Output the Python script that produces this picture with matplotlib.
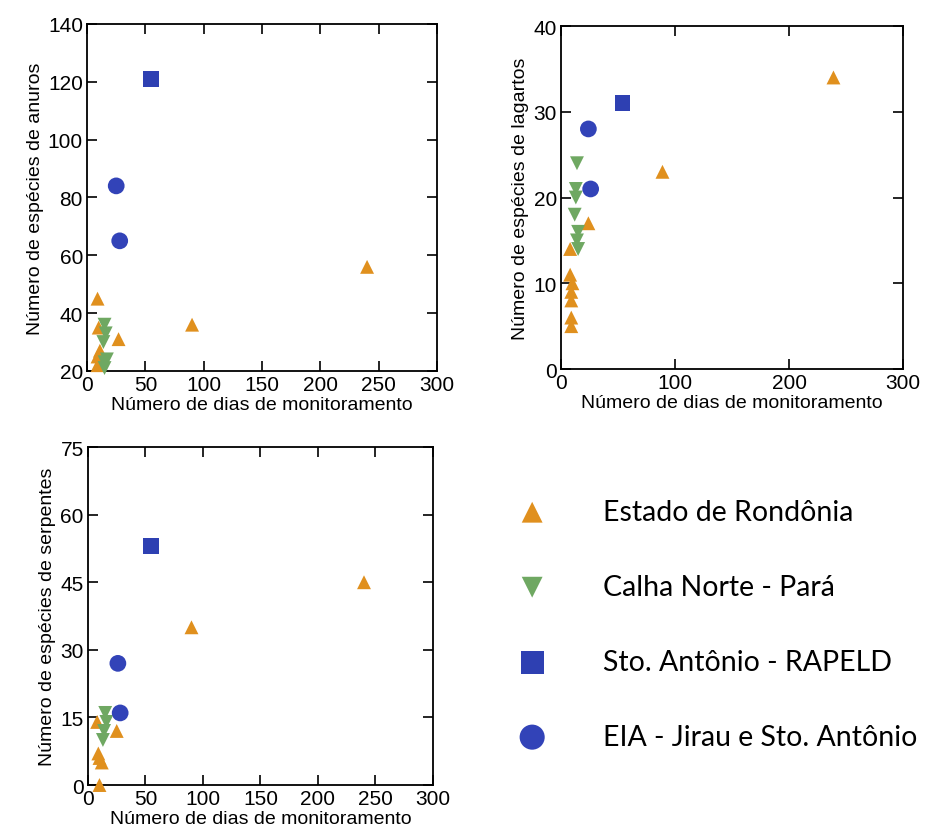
import matplotlib
matplotlib.use("Agg")
import matplotlib.pyplot as plt

plt.rcParams['font.family'] = ['Liberation Sans', 'DejaVu Sans']

# dados (dias de monitoramento x número de espécies)
grupos = ['Estado de Rondônia', 'Calha Norte - Pará',
          'Sto. Antônio - RAPELD', 'EIA - Jirau e Sto. Antônio']

# anuros
anuros_x = {
    'Estado de Rondônia': [9, 10, 27, 11, 9, 9, 90, 240],
    'Calha Norte - Pará': [15, 16, 14, 17, 15, 15],
    'Sto. Antônio - RAPELD': [55],
    'EIA - Jirau e Sto. Antônio': [25, 28],
}
anuros_y = {
    'Estado de Rondônia': [45, 35, 31, 27, 25, 22, 36, 56],
    'Calha Norte - Pará': [36, 33, 30, 24, 23, 21],
    'Sto. Antônio - RAPELD': [121],
    'EIA - Jirau e Sto. Antônio': [84, 65],
}

# lagartos
lagartos_x = {
    'Estado de Rondônia': [239, 89, 24, 8, 8, 10, 9, 9, 9, 9],
    'Calha Norte - Pará': [14, 13, 13, 12, 15, 14, 15],
    'Sto. Antônio - RAPELD': [54],
    'EIA - Jirau e Sto. Antônio': [24, 26],
}
lagartos_y = {
    'Estado de Rondônia': [34, 23, 17, 14, 11, 10, 9, 8, 6, 5],
    'Calha Norte - Pará': [24, 21, 20, 18, 16, 15, 14],
    'Sto. Antônio - RAPELD': [31],
    'EIA - Jirau e Sto. Antônio': [28, 21],
}

# serpentes
serpentes_x = {
    'Estado de Rondônia': [240, 90, 8, 25, 9, 10, 12, 10],
    'Calha Norte - Pará': [15, 16, 14, 13],
    'Sto. Antônio - RAPELD': [55],
    'EIA - Jirau e Sto. Antônio': [26, 28],
}
serpentes_y = {
    'Estado de Rondônia': [45, 35, 14, 12, 7, 6, 5, 0],
    'Calha Norte - Pará': [16, 14, 12, 10],
    'Sto. Antônio - RAPELD': [53],
    'EIA - Jirau e Sto. Antônio': [27, 16],
}

estilos = {
    'Estado de Rondônia': dict(marker='^', color='#E0901E', s=100),
    'Calha Norte - Pará': dict(marker='v', color='#6FA862', s=100),
    'Sto. Antônio - RAPELD': dict(marker='s', color='#2E40B2', s=125),
    'EIA - Jirau e Sto. Antônio': dict(marker='o', color='#3243B8', s=145),
}

xlabel = 'Número de dias de monitoramento'

fig = plt.figure(figsize=(9.27, 8.37), dpi=100)
ax1 = fig.add_axes([0.0939, 0.5556, 0.3776, 0.4146])
ax2 = fig.add_axes([0.6052, 0.5579, 0.3689, 0.4098])
ax3 = fig.add_axes([0.0949, 0.0609, 0.3722, 0.4038])

paineis = [
    (ax1, anuros_x, anuros_y, 'Número de espécies de anuros', (20, 140), range(20, 141, 20), range(0, 301, 50)),
    (ax2, lagartos_x, lagartos_y, 'Número de espécies de lagartos', (0, 40), range(0, 41, 10), range(0, 301, 100)),
    (ax3, serpentes_x, serpentes_y, 'Número de espécies de serpentes', (0, 75), range(0, 76, 15), range(0, 301, 50)),
]

handles = []
for i, (ax, dx, dy, ylab, ylim, yt, xt) in enumerate(paineis):
    for g in grupos:
        h = ax.scatter(dx[g], dy[g], edgecolors='none', clip_on=False,
                       zorder=3, label=g, **estilos[g])
        if i == 0:
            handles.append(h)
    ax.set_xlim(0, 300)
    ax.set_ylim(*ylim)
    ax.set_xticks(list(xt))
    ax.set_yticks(list(yt))
    ax.tick_params(direction='in', length=7, width=1.2, top=True, right=True,
                   labelsize=15, pad=3)
    for sp in ax.spines.values():
        sp.set_linewidth(1.3)
    ax.set_xlabel(xlabel, fontsize=14, labelpad=1)
    ax.set_ylabel(ylab, fontsize=14, labelpad=3)

fig.legend(handles=handles, labels=grupos, loc='upper left',
           bbox_to_anchor=(0.528, 0.42), frameon=False,
           prop={'family': 'Lato', 'size': 20.5}, markerscale=1.5,
           labelspacing=1.72, handletextpad=1.5, borderpad=0)

fig.savefig('out.png', dpi=100)
